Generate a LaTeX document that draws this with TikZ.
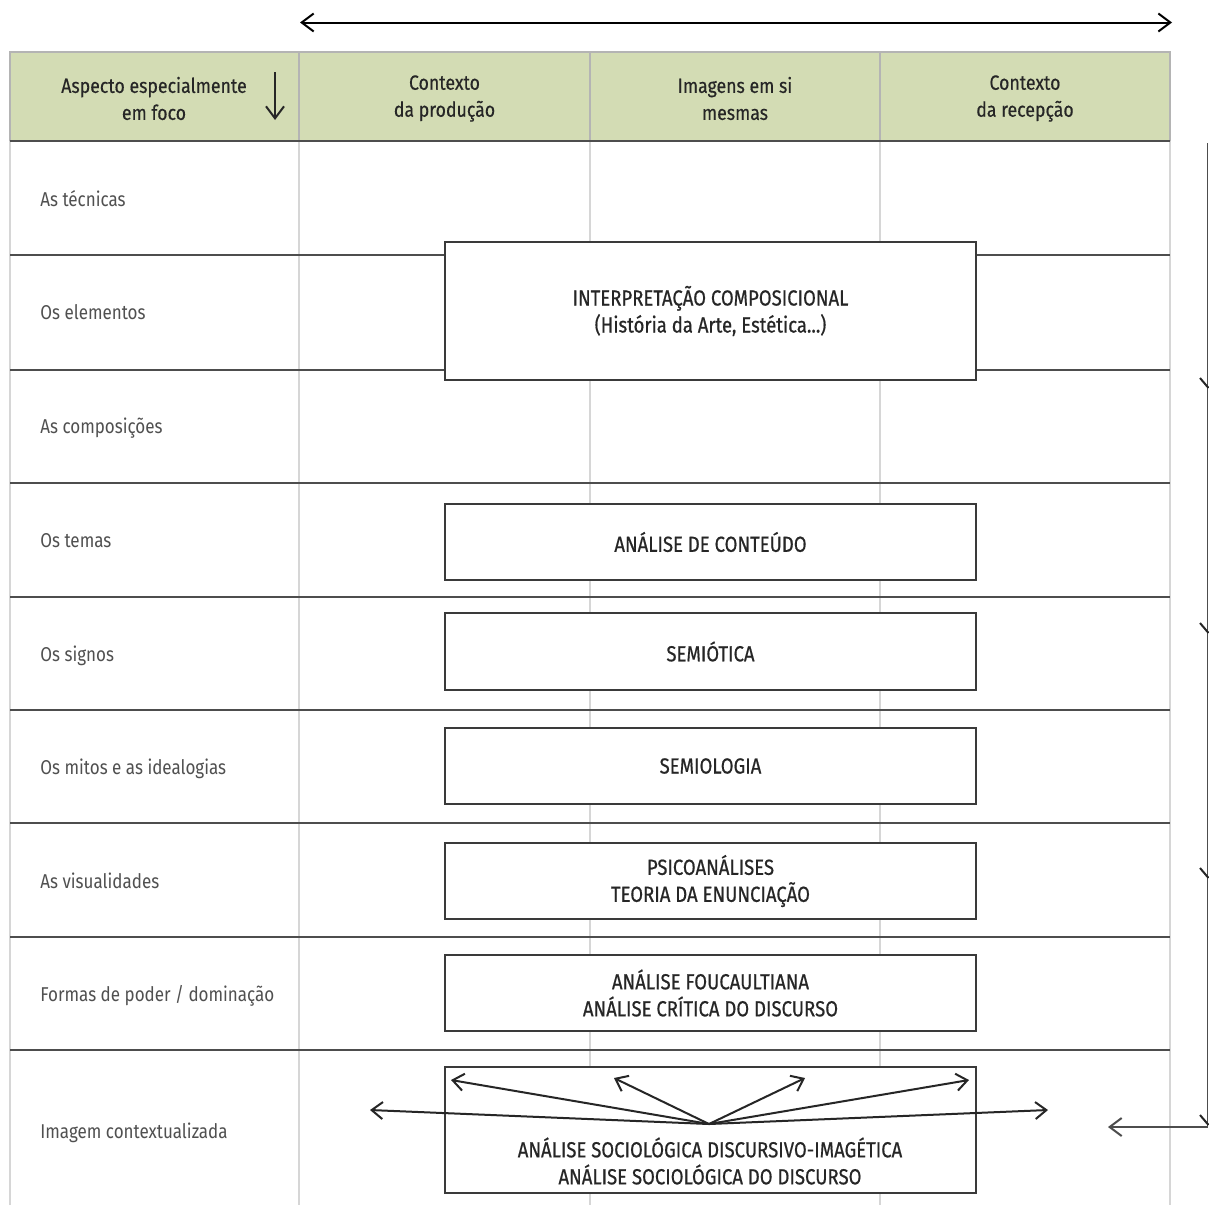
\documentclass[tikz,border=0pt]{standalone}
\usepackage{fontspec}
\setmainfont{Fira Sans}[FakeStretch=0.86]
\newfontfamily\lblfont{Fira Sans}[FakeStretch=0.85]
\newfontfamily\boxfont{Fira Sans}[FakeStretch=0.85, FakeBold=0.6]
\newfontfamily\hdrfont{Fira Sans}[FakeStretch=0.86, FakeBold=0.4]
\usetikzlibrary{arrows.meta}
\definecolor{hdrgreen}{HTML}{D3DCB4}
\definecolor{rowline}{HTML}{4D4D4D}
\definecolor{colline}{HTML}{D6D6D6}
\definecolor{hdrline}{HTML}{B4B4B4}
\definecolor{boxline}{HTML}{3A3A3A}
\definecolor{txtdark}{HTML}{262626}
\definecolor{lbltxt}{HTML}{505050}
\tikzset{
  barb/.style={-{Straight Barb[length=6pt,width=9pt,line width=1pt]}},
  hdr/.style={align=center, font=\hdrfont\fontsize{10.3pt}{13.5pt}\selectfont, text=txtdark, inner sep=0pt},
  lbl/.style={anchor=west, font=\lblfont\fontsize{10pt}{12pt}\selectfont, text=lbltxt, inner sep=0pt, text height=7.3pt, text depth=2pt},
  methodbox/.style={draw=boxline, line width=1pt, fill=white, minimum width=265.5pt, inner sep=0pt},
  boxtxt/.style={align=center, font=\boxfont\fontsize{10.9pt}{13.5pt}\selectfont, text=txtdark, inner sep=0pt},
  rowsep/.style={draw=rowline, line width=1pt},
  colsep/.style={draw=colline, line width=1pt},
}
\begin{document}
\begin{tikzpicture}[x=0.5pt,y=-0.5pt]
\useasboundingbox (0,0) rectangle (1209,1205);
\fill[white] (0,0) rectangle (1209,1205);

% header band
\fill[hdrgreen] (10,52) rectangle (1170,141);
\draw[hdrline, line width=1pt] (10,1205) -- (10,52) -- (1170,52) -- (1170,141);
\foreach \x in {299,590,880} \draw[hdrline, line width=1pt] (\x,52) -- (\x,141);

% column separators in body
\foreach \x in {10,299,590,880,1170} \draw[colsep] (\x,141) -- (\x,1205);

% row separators
\draw[rowsep, line width=1.3pt] (10,141) -- (1170,141);
\foreach \y in {255,370,483,597,710,823,937,1050} \draw[rowsep] (10,\y) -- (1170,\y);

% top double arrow
\coordinate (tl) at (300,22.5);
\coordinate (tr) at (1172,22.5);
\draw[line width=1pt, {Straight Barb[length=6pt,width=9pt,line width=1pt]}-{Straight Barb[length=6pt,width=9pt,line width=1pt]}] (tl) -- (tr);

% header texts
\node[hdr] (h0) at (154,98.5) {Aspecto especialmente\\em foco};
\node[hdr] (h1) at (444.5,98.5) {Contexto\\da produção};
\node[hdr] (h2) at (735,98.5) {Imagens em si\\mesmas};
\node[hdr] (h3) at (1025,98.5) {Contexto\\da recepção};
\coordinate (dtop) at (275,72);
\coordinate (dbot) at (275,120);
\draw[barb, line width=1pt, txtdark] (dtop) -- (dbot);

% row labels
\node[lbl] (l1) at (40,201) {As técnicas};
\node[lbl] (l2) at (40,314) {Os elementos};
\node[lbl] (l3) at (40,428) {As composições};
\node[lbl] (l4) at (40,542) {Os temas};
\node[lbl] (l5) at (40,656) {Os signos};
\node[lbl] (l6) at (40,769) {Os mitos e as idealogias};
\node[lbl] (l7) at (40,883) {As visualidades};
\node[lbl] (l8) at (40,996) {Formas de poder / dominação};
\node[lbl] (l9) at (40,1133) {Imagem contextualizada};

% method boxes
\node[methodbox, minimum height=69pt] (b1) at (710.5,311) {};
\node[boxtxt] (b1t) at (710.5,311) {INTERPRETAÇÃO COMPOSICIONAL\\(História da Arte, Estética...)};
\node[methodbox, minimum height=38pt, boxtxt] (b2) at (710.5,542) {ANÁLISE DE CONTEÚDO};
\node[methodbox, minimum height=38.5pt, boxtxt] (b3) at (710.5,651.5) {SEMIÓTICA};
\node[methodbox, minimum height=38pt, boxtxt] (b4) at (710.5,766) {SEMIOLOGIA};
\node[methodbox, minimum height=38pt] (b5) at (710.5,881) {};
\node[boxtxt] (b5t) at (710.5,881) {PSICOANÁLISES\\TEORIA DA ENUNCIAÇÃO};
\node[methodbox, minimum height=38pt] (b6) at (710.5,993) {};
\node[boxtxt] (b6t) at (710.5,993) {ANÁLISE FOUCAULTIANA\\ANÁLISE CRÍTICA DO DISCURSO};
\node[methodbox, minimum height=63pt] (b7) at (710,1130) {};
\node[boxtxt] (b7t) at (710,1161) {ANÁLISE SOCIOLÓGICA DISCURSIVO-IMAGÉTICA\\ANÁLISE SOCIOLÓGICA DO DISCURSO};

% fan of arrows
\coordinate (fo) at (709,1124);
\coordinate (f1) at (451,1080);
\coordinate (f2) at (614,1078);
\coordinate (f3) at (805,1078);
\coordinate (f4) at (969,1080);
\coordinate (f5) at (370,1110);
\coordinate (f6) at (1048,1110);
\foreach \t in {f1,f2,f3,f4,f5,f6}
  \draw[line width=1pt, txtdark, -{Straight Barb[length=5.5pt,width=8.5pt,line width=1pt]}] (fo) -- (\t);

% right-side bracket
\coordinate (rtop) at (1207.5,143);
\coordinate (rcorner) at (1207.5,1127);
\coordinate (rend) at (1108,1127);
\draw[line width=0.9pt, rowline, -{Straight Barb[length=6pt,width=9pt,line width=1pt]}] (rtop) -- (rcorner) -- (rend);
\foreach \y in {378,623,868,1115}
  \draw[line width=1pt, txtdark] (1200,\y) -- (1208.5,\y+10);
\end{tikzpicture}
\end{document}
